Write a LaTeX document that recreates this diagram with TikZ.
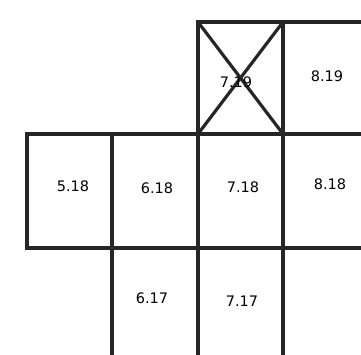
\documentclass[tikz,border=0pt]{standalone}
\usepackage{fontspec}
\setmainfont{DejaVu Sans}
\begin{document}
\begin{tikzpicture}[x=1pt,y=-1pt,
  wall/.style={line width=3.2pt,draw=black!85,line cap=rect},
  lbl/.style={font=\fontsize{14.5}{16}\selectfont,text=black,inner sep=0pt}]
\useasboundingbox (0,0) rectangle (361,355);
% horizontal lines
\draw[wall] (198,22) -- (361,22);
\draw[wall] (27,134) -- (361,134);
\draw[wall] (27,248) -- (361,248);
% vertical lines
\draw[wall] (27,134) -- (27,248);
\draw[wall] (112,134) -- (112,358);
\draw[wall] (198,22) -- (198,358);
\draw[wall] (283,22) -- (283,358);
% cross in 7.19
\draw[wall] (198,22) -- (283,134);
\draw[wall] (283,22) -- (198,134);
% labels
\node[lbl] (c719) at (236,82) {7.19};
\node[lbl] (c819) at (327,76) {8.19};
\node[lbl] (c518) at (73,186) {5.18};
\node[lbl] (c618) at (157,188) {6.18};
\node[lbl] (c718) at (243,187) {7.18};
\node[lbl] (c818) at (330,184) {8.18};
\node[lbl] (c617) at (152,298) {6.17};
\node[lbl] (c717) at (242,301) {7.17};
\end{tikzpicture}
\end{document}
